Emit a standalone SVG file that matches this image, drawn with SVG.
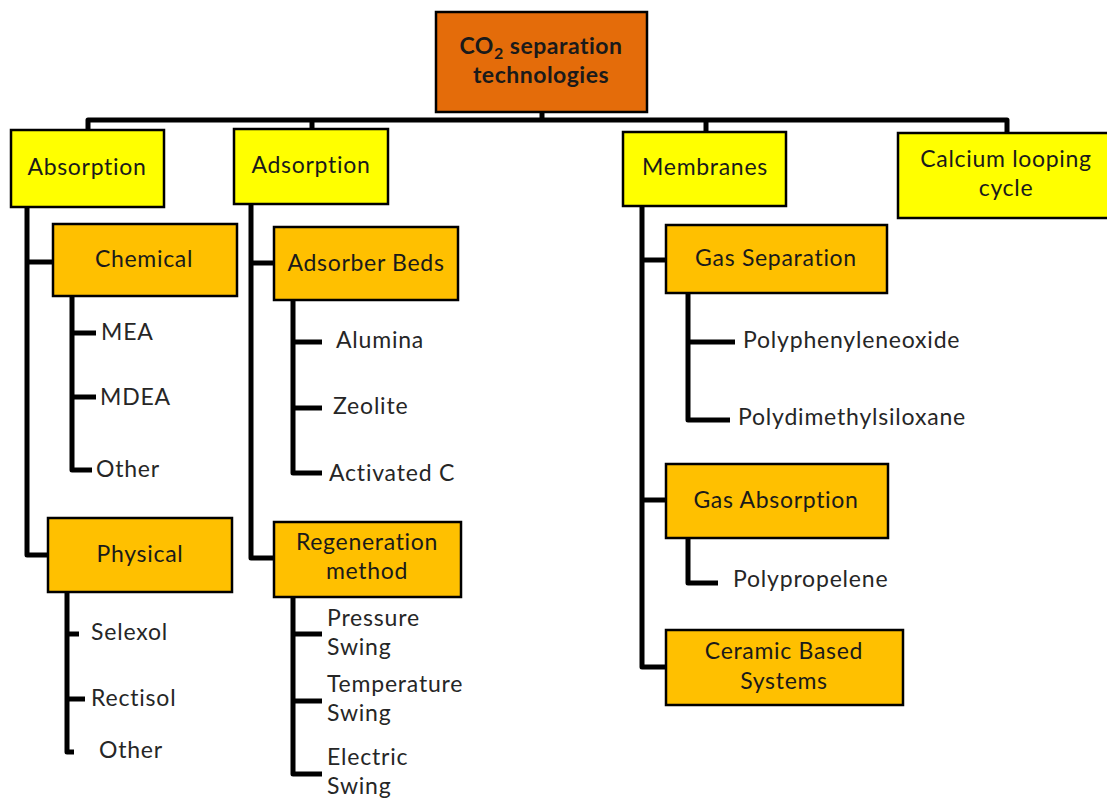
<svg xmlns="http://www.w3.org/2000/svg" width="1107" height="798" viewBox="0 0 1107 798">
<style>
.box{stroke:#000;stroke-width:2.5}
.top{fill:#E46C0A}
.l1{fill:#FFFF00}
.l2{fill:#FFC000}
.t{font-family:Lato,"Liberation Sans",sans-serif;font-size:23px;letter-spacing:0.7px;fill:#1a1a1a;text-anchor:middle}
.tb{font-weight:bold;letter-spacing:0.5px}
.leaf{font-family:Lato,"Liberation Sans",sans-serif;font-size:23px;letter-spacing:0.8px;fill:#262626}
.c{fill:none;stroke:#000;stroke-width:5;stroke-linejoin:round}
</style>
<rect width="1107" height="798" fill="#fff"/>
<g id="connectors">
<path class="c" d="M88,131 V120 H1007 V134"/>
<path class="c" d="M542,112 V120"/>
<path class="c" d="M312,120 V130"/>
<path class="c" d="M706,120 V133"/>
<path class="c" d="M27,207 V555 H48"/>
<path class="c" d="M27,262 H53"/>
<path class="c" d="M72,296 V470 H92"/>
<path class="c" d="M72,333 H96"/>
<path class="c" d="M72,397 H96"/>
<path class="c" d="M67,592 V752 H74"/>
<path class="c" d="M67,634 H79"/>
<path class="c" d="M67,699 H85"/>
<path class="c" d="M251,204 V558 H274"/>
<path class="c" d="M251,263 H274"/>
<path class="c" d="M293,300 V473 H322"/>
<path class="c" d="M293,342 H322"/>
<path class="c" d="M293,408 H322"/>
<path class="c" d="M293,597 V774 H322"/>
<path class="c" d="M293,634 H322"/>
<path class="c" d="M293,701 H322"/>
<path class="c" d="M642,206 V667 H666"/>
<path class="c" d="M642,260 H666"/>
<path class="c" d="M642,500 H666"/>
<path class="c" d="M688,293 V420 H730"/>
<path class="c" d="M688,342 H735"/>
<path class="c" d="M688,538 V583 H718"/>
</g>
<g id="root">
<rect class="box top" x="436" y="12" width="211" height="100"/>
<text class="t tb" x="541" y="54">CO<tspan font-size="16" dy="5">2</tspan><tspan dy="-5"> separation</tspan></text>
<text class="t tb" x="541" y="83">technologies</text>
</g>
<g id="absorption">
<rect class="box l1" x="11" y="130" width="153" height="77"/>
<text class="t" x="87" y="175">Absorption</text>
</g>
<g id="adsorption">
<rect class="box l1" x="234" y="129" width="154" height="75"/>
<text class="t" x="311" y="173">Adsorption</text>
</g>
<g id="membranes">
<rect class="box l1" x="623" y="132" width="163" height="74"/>
<text class="t" x="705" y="175">Membranes</text>
</g>
<g id="calcium">
<rect class="box l1" x="898" y="133" width="212" height="85"/>
<text class="t" x="1006" y="167">Calcium looping</text>
<text class="t" x="1006" y="196">cycle</text>
</g>
<g id="chemical">
<rect class="box l2" x="53" y="224" width="184" height="72"/>
<text class="t" x="144" y="267">Chemical</text>
</g>
<g id="physical">
<rect class="box l2" x="48" y="518" width="184" height="74"/>
<text class="t" x="140" y="562">Physical</text>
</g>
<g id="adsorber-beds">
<rect class="box l2" x="274" y="227" width="184" height="73"/>
<text class="t" x="366" y="271">Adsorber Beds</text>
</g>
<g id="regeneration">
<rect class="box l2" x="274" y="522" width="187" height="75"/>
<text class="t" x="367" y="550">Regeneration</text>
<text class="t" x="367" y="579">method</text>
</g>
<g id="gas-separation">
<rect class="box l2" x="666" y="225" width="221" height="68"/>
<text class="t" x="776" y="266">Gas Separation</text>
</g>
<g id="gas-absorption">
<rect class="box l2" x="666" y="464" width="222" height="74"/>
<text class="t" x="776" y="508">Gas Absorption</text>
</g>
<g id="ceramic">
<rect class="box l2" x="666" y="630" width="237" height="75"/>
<text class="t" x="784" y="659">Ceramic Based</text>
<text class="t" x="784" y="689">Systems</text>
</g>
<g id="leaves">
<text class="leaf" x="101" y="340">MEA</text>
<text class="leaf" x="100" y="405">MDEA</text>
<text class="leaf" x="96" y="477">Other</text>
<text class="leaf" x="91" y="640">Selexol</text>
<text class="leaf" x="91" y="706">Rectisol</text>
<text class="leaf" x="99" y="758">Other</text>
<text class="leaf" x="336" y="348">Alumina</text>
<text class="leaf" x="333" y="414">Zeolite</text>
<text class="leaf" x="329" y="481">Activated C</text>
<text class="leaf" x="327" y="626">Pressure</text>
<text class="leaf" x="327" y="655">Swing</text>
<text class="leaf" x="327" y="692">Temperature</text>
<text class="leaf" x="327" y="721">Swing</text>
<text class="leaf" x="327" y="765">Electric</text>
<text class="leaf" x="327" y="794">Swing</text>
<text class="leaf" x="743" y="348">Polyphenyleneoxide</text>
<text class="leaf" x="738" y="425">Polydimethylsiloxane</text>
<text class="leaf" x="733" y="587">Polypropelene</text>
</g>
</svg>
